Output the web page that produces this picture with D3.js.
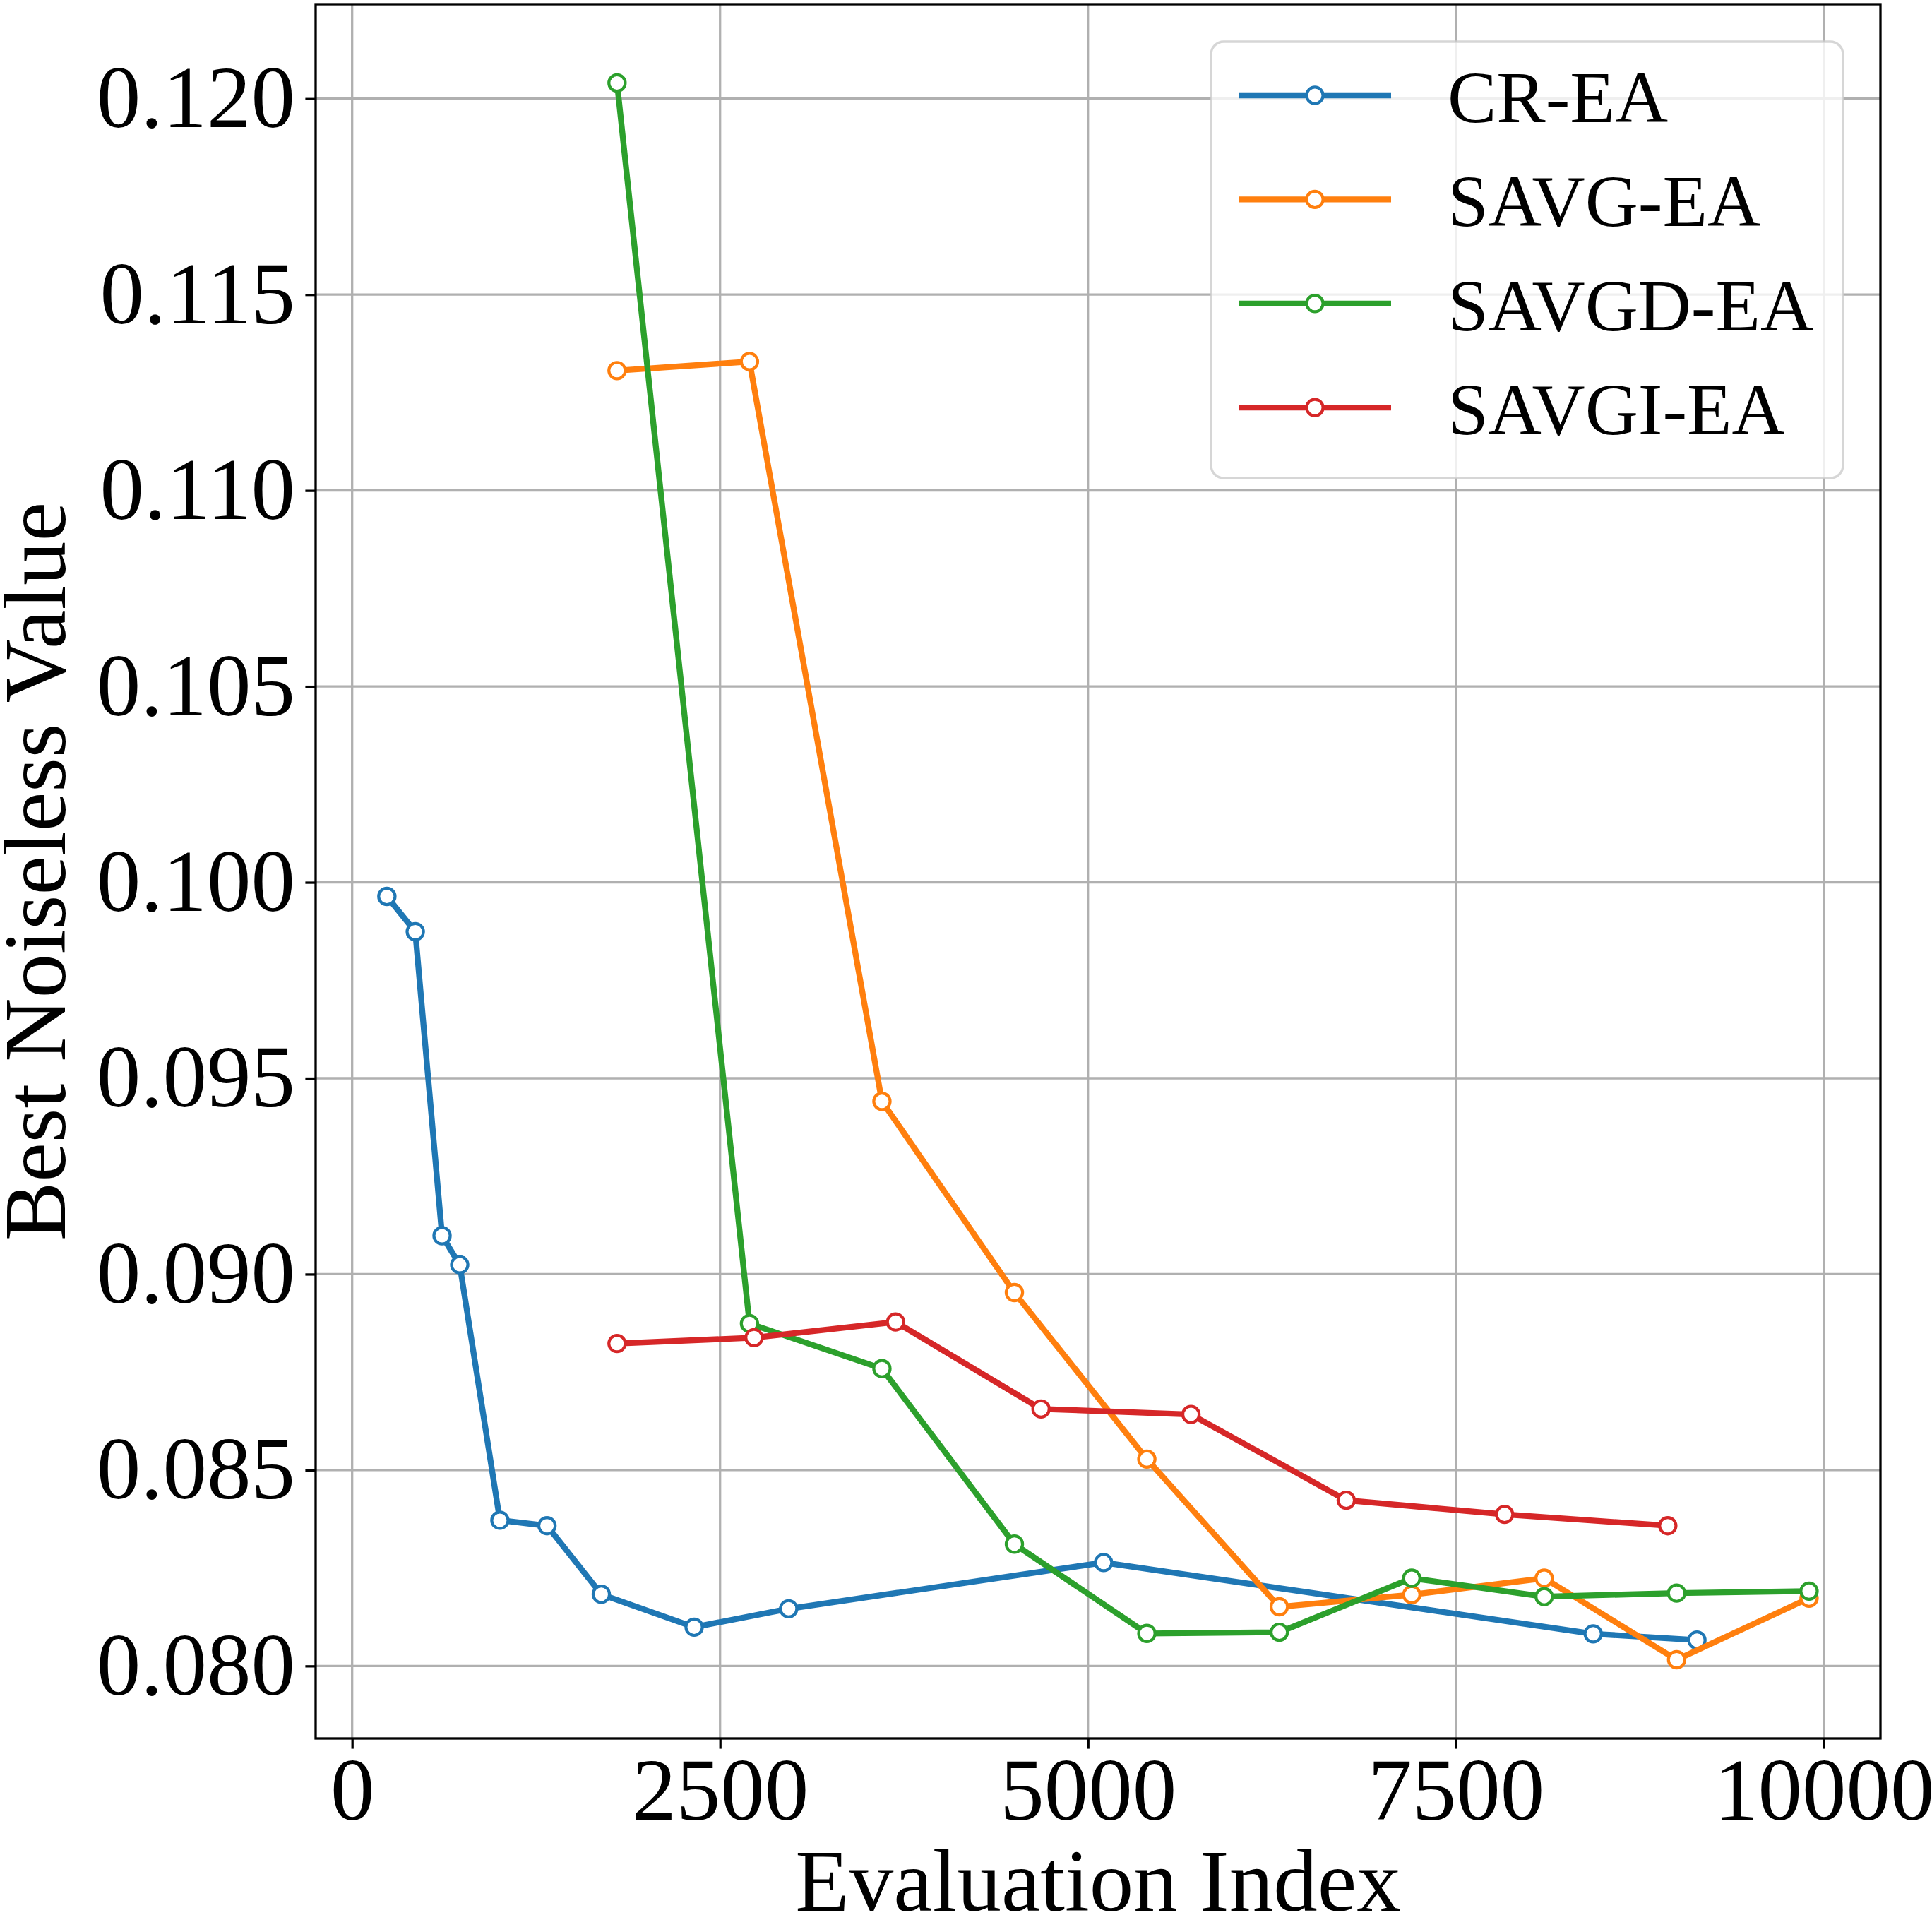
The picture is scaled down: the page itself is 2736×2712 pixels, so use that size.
<!DOCTYPE html>
<html>
<head>
<meta charset="utf-8">
<script src="https://cdn.jsdelivr.net/npm/d3@7"></script>
<style>
  body { margin: 0; background: #fff; }
  text { font-family: "Liberation Serif", "Times New Roman", serif; }
</style>
</head>
<body>
<div id="chart"></div>
<script>
const seriesNames = ["CR-EA", "SAVG-EA", "SAVGD-EA", "SAVGI-EA"];
const seriesColors = ["#1f77b4", "#ff7f0e", "#2ca02c", "#d62728"];

const crX = [236, 429, 611, 731, 1004, 1324, 1693, 2324, 2966, 5106, 8433, 9138];
const crY = [0.09964, 0.09874, 0.09098, 0.09024, 0.08372, 0.08358, 0.08183, 0.08099, 0.08146, 0.08264, 0.08082, 0.08066];

const savgX = [1800, 2700, 3600, 4500, 5400, 6300, 7200, 8100, 9000, 9900];
const savgY = [0.11306, 0.11329, 0.09441, 0.08953, 0.08528, 0.08151, 0.08182, 0.08224, 0.08016, 0.08173];

const savgdX = [1800, 2700, 3600, 4500, 5400, 6300, 7200, 8100, 9000, 9900];
const savgdY = [0.12040, 0.08874, 0.08759, 0.08311, 0.08083, 0.08086, 0.08224, 0.08177, 0.08186, 0.08191];

const savgiX = [1800, 2731, 3693, 4681, 5700, 6755, 7831, 8940];
const savgiY = [0.08823, 0.08838, 0.08878, 0.08656, 0.08642, 0.08423, 0.08387, 0.08358];

const xTicks = [0, 2500, 5000, 7500, 10000];
const yTicks = [0.080, 0.085, 0.090, 0.095, 0.100, 0.105, 0.110, 0.115, 0.120];
const xLabel = "Evaluation Index";
const yLabel = "Best Noiseless Value";

const SIZE = { width: 2736, height: 2712 };
const MARGIN = { left: 447, right: 73, top: 6, bottom: 250 };

const allX = [crX, savgX, savgdX, savgiX];
const allY = [crY, savgY, savgdY, savgiY];
const series = seriesNames.map((name, i) => ({
  name: name,
  color: seriesColors[i],
  points: allX[i].map((x, j) => ({ x: x, y: allY[i][j] }))
}));

const svg = d3.select("#chart").append("svg")
    .attr("width", SIZE.width)
    .attr("height", SIZE.height);

const x = d3.scaleLinear().domain([-248, 10385])
    .range([MARGIN.left, SIZE.width - MARGIN.right]);
const y = d3.scaleLinear().domain([0.07815, 0.12241])
    .range([SIZE.height - MARGIN.bottom, MARGIN.top]);

const plotW = SIZE.width - MARGIN.left - MARGIN.right;
const plotH = SIZE.height - MARGIN.top - MARGIN.bottom;

// grid
const grid = svg.append("g");
grid.selectAll(".vx").data(xTicks).join("line")
    .attr("x1", d => x(d)).attr("x2", d => x(d))
    .attr("y1", MARGIN.top).attr("y2", MARGIN.top + plotH)
    .attr("stroke", "#b0b0b0").attr("stroke-width", 3.3);
grid.selectAll(".hy").data(yTicks).join("line")
    .attr("y1", d => y(d)).attr("y2", d => y(d))
    .attr("x1", MARGIN.left).attr("x2", MARGIN.left + plotW)
    .attr("stroke", "#b0b0b0").attr("stroke-width", 3.3);

// series
const line = d3.line().x(d => x(d.x)).y(d => y(d.y));
series.forEach(s => {
  const g = svg.append("g");
  g.append("path").datum(s.points)
      .attr("d", line)
      .attr("fill", "none")
      .attr("stroke", s.color)
      .attr("stroke-width", 8.3)
      .attr("stroke-linejoin", "round")
      .attr("stroke-linecap", "square");
  g.selectAll("circle").data(s.points).join("circle")
      .attr("cx", d => x(d.x)).attr("cy", d => y(d.y))
      .attr("r", 11.6)
      .attr("fill", "#fff")
      .attr("stroke", s.color)
      .attr("stroke-width", 4.2);
});

// axes
const xAxis = svg.append("g")
    .attr("transform", `translate(0, ${SIZE.height - MARGIN.bottom})`)
    .call(d3.axisBottom(x).tickValues(xTicks).tickFormat(d3.format("d"))
      .tickSize(14.6).tickSizeOuter(0).tickPadding(12));
const yAxis = svg.append("g")
    .attr("transform", `translate(${MARGIN.left}, 0)`)
    .call(d3.axisLeft(y).tickValues(yTicks).tickFormat(d3.format(".3f"))
      .tickSize(14.6).tickSizeOuter(0).tickPadding(14.4));
[xAxis, yAxis].forEach(a => {
  a.select(".domain").remove();
  a.selectAll(".tick line").attr("stroke", "#000").attr("stroke-width", 3.3);
  a.selectAll(".tick text").attr("fill", "#000")
      .style("font-family", "'Liberation Serif', 'Times New Roman', serif")
      .style("font-size", "125px");
});

// spines
svg.append("rect")
    .attr("x", MARGIN.left).attr("y", MARGIN.top)
    .attr("width", plotW).attr("height", plotH)
    .attr("fill", "none").attr("stroke", "#000").attr("stroke-width", 3.3);

// axis labels
svg.append("text")
    .attr("x", MARGIN.left + plotW / 2).attr("y", 2706)
    .attr("text-anchor", "middle")
    .style("font-size", "125px")
    .text(xLabel);
svg.append("text")
    .attr("transform", `translate(92, ${MARGIN.top + plotH / 2}) rotate(-90)`)
    .attr("text-anchor", "middle")
    .style("font-size", "125px")
    .text(yLabel);

// legend
const legend = svg.append("g");
legend.append("rect")
    .attr("x", 1715).attr("y", 59).attr("width", 895).attr("height", 618)
    .attr("rx", 18).attr("ry", 18)
    .attr("fill", "#fff").attr("fill-opacity", 0.8)
    .attr("stroke", "#cccccc").attr("stroke-opacity", 0.8).attr("stroke-width", 3.3);
const rows = legend.selectAll(".row").data(series).join("g")
    .attr("transform", (d, i) => `translate(0, ${135 + i * 147.4})`);
rows.append("line")
    .attr("x1", 1755).attr("x2", 1970)
    .attr("stroke", d => d.color).attr("stroke-width", 8.3);
rows.append("circle")
    .attr("cx", 1862).attr("r", 11.6)
    .attr("fill", "#fff").attr("stroke", d => d.color).attr("stroke-width", 4.2);
rows.append("text")
    .attr("x", 2050).attr("y", 38)
    .style("font-size", "104px")
    .text(d => d.name);
</script>
</body>
</html>
